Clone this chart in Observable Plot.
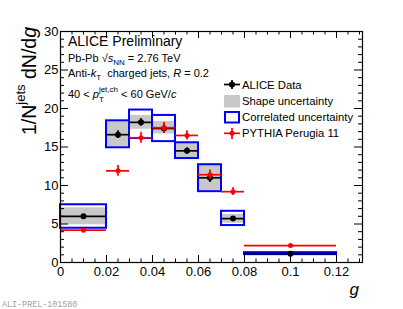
<!DOCTYPE html>
<html><head><meta charset="utf-8">
<script src="https://cdn.jsdelivr.net/npm/d3@7"></script>
<script src="https://cdn.jsdelivr.net/npm/@observablehq/plot@0.6"></script>
<style>body{margin:0;background:#fff}</style>
</head><body><div id="chart"></div>
<script>
// ---- data ----
const binLo   = [0.00, 0.02, 0.03, 0.04, 0.05, 0.06, 0.07, 0.08];
const binHi   = [0.02, 0.03, 0.04, 0.05, 0.06, 0.07, 0.08, 0.12];
const gCenter = [0.010, 0.025, 0.035, 0.045, 0.055, 0.065, 0.075, 0.100];
const dataY   = [6.0, 16.6, 18.2, 17.4, 14.5, 11.0, 5.7, 1.15];
const dataErr = [0.2, 0.5, 0.5, 0.6, 0.4, 0.6, 0.2, 0.1];
const shapeLo = [4.9, 15.0, 17.3, 16.7, 13.5, 9.3, 5.1, 1.02];
const shapeHi = [7.1, 18.3, 19.1, 18.3, 15.5, 12.6, 6.25, 1.28];
const corrLo  = [4.45, 14.9, 16.1, 15.7, 13.5, 9.2, 4.8, 1.02];
const corrHi  = [7.5, 18.4, 19.8, 19.1, 15.55, 12.7, 6.65, 1.28];
const pythiaY   = [4.2, 11.9, 16.2, 17.5, 16.5, 11.4, 9.2, 2.2];
const pythiaErr = [0.1, 0.7, 0.7, 0.7, 0.6, 0.6, 0.5, 0.1];
const yTicks = [0, 5, 10, 15, 20, 25, 30];
const yTickLabels = ["0", "5", "10", "15", "20", "25", "30"];
const xTicks = [0, 0.02, 0.04, 0.06, 0.08, 0.1, 0.12];
const xTickLabels = ["0", "0.02", "0.04", "0.06", "0.08", "0.1", "0.12"];
const yMinor = d3.range(0, 31, 1).filter(v => v % 5 !== 0);
const xMinor = d3.range(0, 0.131, 0.005).filter((v, i) => i % 4 !== 0);

const rows = binLo.map((lo, i) => ({
  lo, hi: binHi[i], g: gCenter[i], y: dataY[i], e: dataErr[i],
  sLo: shapeLo[i], sHi: shapeHi[i], cLo: corrLo[i], cHi: corrHi[i],
  p: pythiaY[i], pe: pythiaErr[i]
}));

const W = 403, H = 309, ML = 60, MR = 41, MT = 31, MB = 47;
const FW = W - ML - MR, FH = H - MT - MB;
const FONT = "'Liberation Sans', Arial, Helvetica, sans-serif";

const chart = Plot.plot({
  width: W, height: H,
  marginLeft: ML, marginRight: MR, marginTop: MT, marginBottom: MB,
  style: {fontFamily: FONT, fontSize: "13px", color: "black", background: "white"},
  x: {domain: [0, 0.1313]},
  y: {domain: [0, 30]},
  marks: [
    Plot.rect(rows, {x1: "lo", x2: "hi", y1: "sLo", y2: "sHi", fill: "#c8c8c8"}),
    Plot.rect(rows, {x1: "lo", x2: "hi", y1: "cLo", y2: "cHi", fill: "none", stroke: "#0000ff", strokeWidth: 2}),
    Plot.ruleY(rows, {y: "y", x1: "lo", x2: "hi", stroke: "black", strokeWidth: 1.7}),
    Plot.ruleX(rows, {x: "g", y1: d => d.y - d.e, y2: d => d.y + d.e, stroke: "black", strokeWidth: 1.7}),
    Plot.dot(rows, {x: "g", y: "y", r: 3, fill: "black", stroke: "none"}),
    Plot.ruleY(rows, {y: "p", x1: "lo", x2: "hi", stroke: "#ff0000", strokeWidth: 1.7}),
    Plot.ruleX(rows, {x: "g", y1: d => d.p - d.pe, y2: d => d.p + d.pe, stroke: "#ff0000", strokeWidth: 1.7}),
    Plot.dot(rows, {x: "g", y: "p", r: 2.5, fill: "#ff0000", stroke: "none"}),
    Plot.tickY(yTicks, {y: d => d, insetRight: FW - 8, stroke: "black"}),
    Plot.tickY(yMinor, {y: d => d, insetRight: FW - 4, stroke: "black"}),
    Plot.tickY(yTicks, {y: d => d, insetLeft: FW - 8, stroke: "black"}),
    Plot.tickY(yMinor, {y: d => d, insetLeft: FW - 4, stroke: "black"}),
    Plot.tickX(xTicks, {x: d => d, insetTop: FH - 7, stroke: "black"}),
    Plot.tickX(xMinor, {x: d => d, insetTop: FH - 3.5, stroke: "black"}),
    Plot.tickX(xTicks, {x: d => d, insetBottom: FH - 7, stroke: "black"}),
    Plot.tickX(xMinor, {x: d => d, insetBottom: FH - 3.5, stroke: "black"}),
    Plot.frame({stroke: "black", strokeWidth: 1.2}),
    Plot.axisX(xTicks, {tickSize: 0, tickPadding: 4, fontSize: 13, label: null,
      tickFormat: d => xTickLabels[xTicks.indexOf(d)]}),
    Plot.axisY(yTicks, {tickSize: 0, tickPadding: 2, fontSize: 13, label: null,
      tickFormat: d => yTickLabels[yTicks.indexOf(d)]})
  ]
});
document.getElementById("chart").append(chart);

const svg = d3.select(chart);
const ann = svg.append("g").attr("font-family", FONT).attr("fill", "black").attr("text-anchor", "start");

function rich(x, y, size, parts, extra) {
  const t = ann.append("text").attr("x", x).attr("y", y).attr("font-size", size);
  if (extra) extra(t);
  let cur = 0;
  for (const p of parts) {
    const off = p.off || 0;
    const s = t.append("tspan").text(p.t).attr("dy", off - cur);
    cur = off;
    if (p.size) s.attr("font-size", p.size);
    if (p.it) s.attr("font-style", "italic");
    if (p.dx) s.attr("dx", p.dx);
  }
  return t;
}

rich(68, 45.5, 14, [{t: "ALICE Preliminary"}]);
rich(68, 62, 11, [
  {t: "Pb-Pb "}, {t: "\u221A"}, {t: "s", it: true}, {t: "NN", size: 8, off: 3},
  {t: " = 2.76 TeV", off: 0}
]);
rich(68, 76.5, 11, [
  {t: "Anti-"}, {t: "k", it: true}, {t: "T", size: 8, off: 3},
  {t: "  charged jets, ", off: 0}, {t: "R", it: true}, {t: " = 0.2"}
]);
rich(68, 98, 11, [
  {t: "40 < "}, {t: "p", it: true}, {t: "T", size: 8, off: 4},
  {t: "jet,ch", size: 8, off: -6, dx: -4.9}, {t: " < 60 GeV/", off: 0}, {t: "c", it: true}
]);

// y-axis title
rich(0, 0, 19.5, [
  {t: "1/N"}, {t: "jets", size: 13, off: -11}, {t: " dN/d", off: 0}, {t: "g", it: true}
], t => t.attr("text-anchor", "end").attr("transform", "translate(36,27) rotate(-90)"));

// x-axis title
ann.append("text").attr("x", 359).attr("y", 294.5).attr("text-anchor", "end")
  .attr("font-size", 17).attr("font-style", "italic").text("g");

// legend
const lg = ann.append("g");
const lx = 224, lw = 16;
const legRows = [
  {label: "ALICE Data", base: 88.7},
  {label: "Shape uncertainty", base: 104.5},
  {label: "Correlated uncertainty", base: 120.8},
  {label: "PYTHIA Perugia 11", base: 137}
];
legRows.forEach(r => lg.append("text").attr("x", 242).attr("y", r.base).attr("font-size", 11.3).text(r.label));
lg.append("line").attr("x1", lx).attr("x2", lx + lw).attr("y1", 84.5).attr("y2", 84.5).attr("stroke", "black").attr("stroke-width", 1.7);
lg.append("line").attr("x1", lx + lw / 2).attr("x2", lx + lw / 2).attr("y1", 80).attr("y2", 89).attr("stroke", "black").attr("stroke-width", 1.7);
lg.append("circle").attr("cx", lx + lw / 2).attr("cy", 84.5).attr("r", 3).attr("fill", "black");
lg.append("rect").attr("x", lx).attr("y", 95).attr("width", lw).attr("height", 12.5).attr("fill", "#c8c8c8");
lg.append("rect").attr("x", lx + 1).attr("y", 112).attr("width", lw - 2).attr("height", 10.5).attr("fill", "none").attr("stroke", "#0000ff").attr("stroke-width", 2);
lg.append("line").attr("x1", lx).attr("x2", lx + lw).attr("y1", 133.3).attr("y2", 133.3).attr("stroke", "#ff0000").attr("stroke-width", 1.7);
lg.append("line").attr("x1", lx + lw / 2).attr("x2", lx + lw / 2).attr("y1", 128).attr("y2", 139).attr("stroke", "#ff0000").attr("stroke-width", 1.7);
lg.append("circle").attr("cx", lx + lw / 2).attr("cy", 133.3).attr("r", 2.5).attr("fill", "#ff0000");

// caption
ann.append("text").attr("x", 2).attr("y", 307).attr("font-family", "'Liberation Mono', 'DejaVu Sans Mono', monospace")
  .attr("font-size", 8.4).attr("fill", "#a0a0a0").text("ALI-PREL-101580");
</script>
</body></html>
